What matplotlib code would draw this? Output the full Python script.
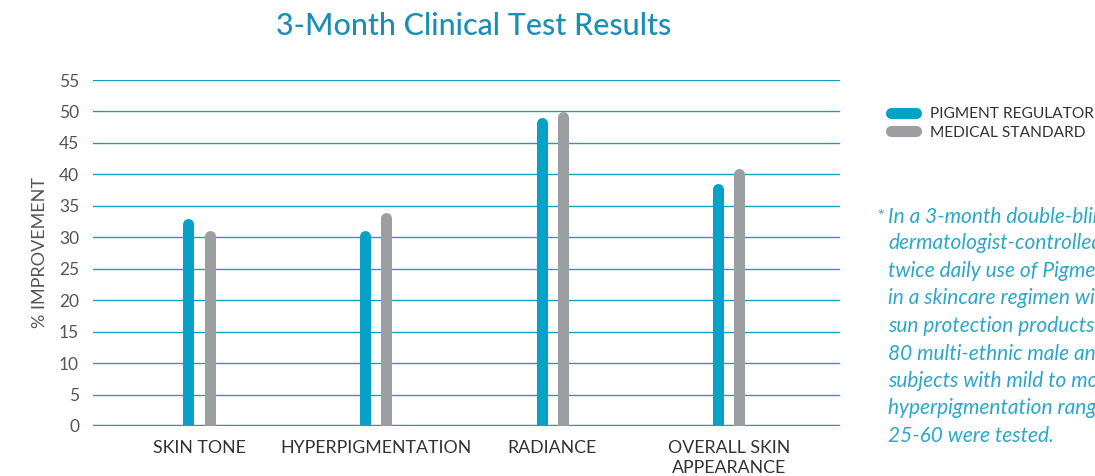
import matplotlib.pyplot as plt
from matplotlib.lines import Line2D

categories = ["SKIN TONE", "HYPERPIGMENTATION", "RADIANCE", "OVERALL SKIN\nAPPEARANCE"]
pigment_regulator = [33, 31, 49, 38.5]
medical_standard = [31, 34, 50, 41]
y_ticks = [0, 5, 10, 15, 20, 25, 30, 35, 40, 45, 50, 55]
footnote_lines = [
    "In a 3-month double-blind,",
    "dermatologist-controlled",
    "twice daily use of Pigment",
    "in a skincare regimen with",
    "sun protection products",
    "80 multi-ethnic male and",
    "subjects with mild to mod",
    "hyperpigmentation ranging",
    "25-60 were tested.",
]

BLUE = "#05a1c6"
GRAY = "#9d9ea2"
GRID = "#1b9fc1"
TEXT = "#555555"
TEAL = "#1a8fb3"
NOTE = "#2ba7c9"

plt.rcParams["font.family"] = ["Lato", "DejaVu Sans"]

fig = plt.figure(figsize=(10.95, 4.76), dpi=100)
ax = fig.add_axes([93 / 1095, 50 / 476, 747 / 1095, 346 / 476])

ax.set_ylim(0, 55)
ax.set_xlim(-0.6, 3.63)

bar_px = 11
bar_lw = bar_px * 72 / fig.dpi
px_per_unit = 346 / 55
cap = (bar_px / 2) / px_per_unit
offset = 0.06

for i, (a, b) in enumerate(zip(pigment_regulator, medical_standard)):
    ax.vlines(i - offset, 0, a - cap, colors=BLUE, linewidth=bar_lw,
              capstyle="round", zorder=3)
    ax.vlines(i + offset, 0, b - cap, colors=GRAY, linewidth=bar_lw,
              capstyle="round", zorder=3)

for t in y_ticks:
    ax.axhline(t, color=GRID, linewidth=1.0 if t else 2.5, zorder=1)

for s in ax.spines.values():
    s.set_visible(False)

ax.set_yticks(y_ticks)
ax.set_yticklabels([str(t) for t in y_ticks])
ax.set_xticks(range(len(categories)))
ax.set_xticklabels(categories, linespacing=1.3)
ax.tick_params(axis="y", length=0, pad=10, labelsize=12.5, labelcolor=TEXT)
ax.tick_params(axis="x", length=0, pad=10, labelsize=12.8, labelcolor="#333333")
ax.set_ylabel("% IMPROVEMENT", fontsize=13, color=TEXT, labelpad=8)

fig.text(474 / 1095, 1 - 26 / 476, "3-Month Clinical Test Results",
         ha="center", va="center", fontsize=22, color=TEAL, fontweight="medium")

handles = [
    Line2D([0], [0], color=BLUE, linewidth=8, solid_capstyle="round"),
    Line2D([0], [0], color=GRAY, linewidth=8, solid_capstyle="round"),
]
fig.legend(handles, ["PIGMENT REGULATOR", "MEDICAL STANDARD"],
           loc="upper left", bbox_to_anchor=(891 / 1095, 1 - 107 / 476),
           frameon=False, handlelength=1.6,
           handletextpad=0.9, labelspacing=0.3, labelcolor="#333333",
           borderaxespad=0, borderpad=0, prop={"size": 11.2})

fig.text(876 / 1095, 1 - 216 / 476, "*", ha="left", va="center",
         fontsize=13, color=NOTE, style="italic")
for k, line in enumerate(footnote_lines):
    fig.text(888 / 1095, 1 - (216 + 27.5 * k) / 476, line, ha="left",
             va="center", fontsize=15, color=NOTE, style="italic")

fig.savefig("out.png", dpi=100)
